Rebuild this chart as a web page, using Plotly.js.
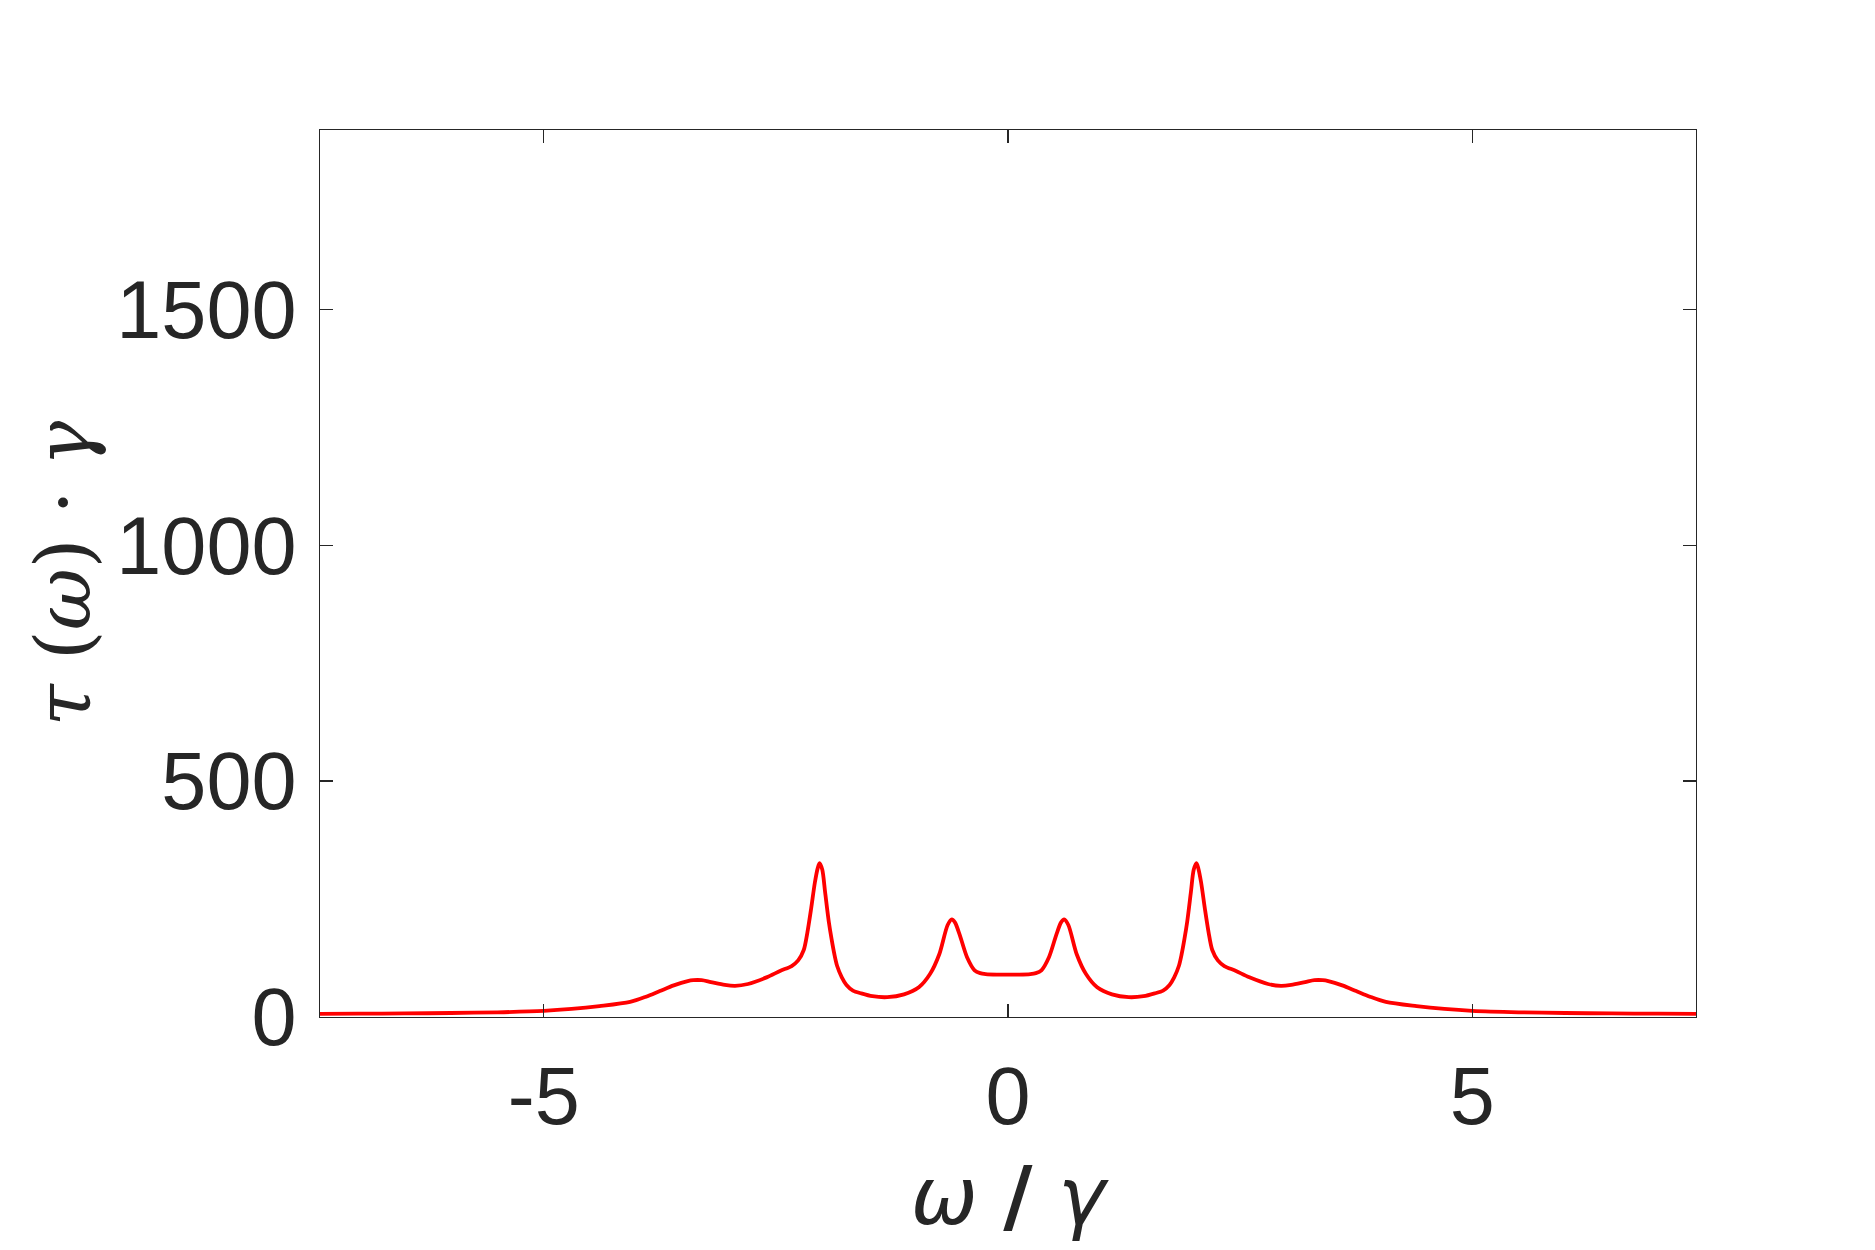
<!DOCTYPE html>
<html>
<head>
<meta charset="utf-8">
<script src="https://cdn.plot.ly/plotly-3.0.1.min.js"></script>
<style>html,body{margin:0;padding:0;background:#fff;}#chart{width:1875px;height:1250px;}</style>
</head>
<body>
<div id="chart"></div>
<script>
// ω/γ values
const omega = [
  -7.41, -7.0, -6.5, -6.0, -5.5, -5.0, -4.7, -4.4, -4.07, -3.9, -3.75, -3.6, -3.45, -3.39, -3.3, -3.2, -3.05, -2.94, -2.8, -2.6, -2.45, -2.33, -2.26, -2.2, -2.16, -2.12, -2.08, -2.05, -2.03, -2.0, -1.97, -1.93, -1.9, -1.87, -1.84, -1.79, -1.74, -1.67, -1.58, -1.46, -1.3, -1.12, -0.96, -0.84, -0.74, -0.65, -0.605, -0.57, -0.52, -0.44, -0.36, -0.3, -0.24, -0.12,
  0.0,
  0.12, 0.24, 0.3, 0.36, 0.44, 0.52, 0.57, 0.605, 0.65, 0.74, 0.84, 0.96, 1.12, 1.3, 1.46, 1.58, 1.67, 1.74, 1.79, 1.84, 1.87, 1.9, 1.93, 1.97, 2.0, 2.03, 2.05, 2.08, 2.12, 2.16, 2.2, 2.26, 2.33, 2.45, 2.6, 2.8, 2.94, 3.05, 3.2, 3.3, 3.39, 3.45, 3.6, 3.75, 3.9, 4.07, 4.4, 4.7, 5.0, 5.5, 6.0, 6.5, 7.0, 7.41
];
// τ(ω)·γ values
const tau = [
  6.5, 7, 7.5, 8.5, 10, 13, 17, 23, 32, 43, 55, 67, 76, 78, 78, 74, 68, 66, 70, 84, 98, 108, 120, 142, 180, 230, 285, 315, 326, 312, 265, 202, 165, 133, 108, 84, 68, 56, 50, 44, 42, 48, 63, 91, 133, 195, 207, 200, 174, 126, 99, 93, 91, 90,
  90,
  90, 91, 93, 99, 126, 174, 200, 207, 195, 133, 91, 63, 48, 42, 44, 50, 56, 68, 84, 108, 133, 165, 202, 265, 312, 326, 315, 285, 230, 180, 142, 120, 108, 98, 84, 70, 66, 68, 74, 78, 78, 76, 67, 55, 43, 32, 23, 17, 13, 10, 8.5, 7.5, 7, 6.5
];
const xTicks = [-5, 0, 5];
const xTickText = ['-5', '0', '5'];
const yTicks = [0, 500, 1000, 1500];
const yTickText = ['0', '500', '1000', '1500'];

const axisColor = '#262626';
const tickFont = {family: 'Liberation Sans, Arial, Helvetica, sans-serif', size: 81, color: axisColor};

const trace = {
  x: omega, y: tau, type: 'scatter', mode: 'lines',
  line: {color: '#ff0000', width: 3.8, shape: 'spline', smoothing: 0.8},
  hoverinfo: 'skip'
};

const layout = {
  width: 1875, height: 1250,
  margin: {l: 320, r: 179, t: 130, b: 233, pad: 0},
  paper_bgcolor: '#ffffff', plot_bgcolor: '#ffffff',
  showlegend: false,
  xaxis: {
    range: [-7.41, 7.41],
    tickvals: xTicks, ticktext: xTickText,
    ticks: 'inside', ticklen: 13, tickwidth: 1.3, tickcolor: axisColor,
    showline: true, linecolor: axisColor, linewidth: 1.3, mirror: 'ticks',
    showgrid: false, zeroline: false,
    tickfont: tickFont,
    ticklabelstandoff: 8,
    title: {text: '<i>ω</i> <b>/</b> <i>γ</i>', font: {family: 'DejaVu Sans, sans-serif', size: 80, color: axisColor}, standoff: 28}
  },
  yaxis: {
    range: [0, 1880],
    tickvals: yTicks, ticktext: yTickText,
    ticks: 'inside', ticklen: 13, tickwidth: 1.3, tickcolor: axisColor,
    showline: true, linecolor: axisColor, linewidth: 1.3, mirror: 'ticks',
    showgrid: false, zeroline: false,
    tickfont: tickFont,
    ticklabelstandoff: 6,
    title: {text: '<i>τ</i> (<i>ω</i>) · <i>γ</i>', font: {family: 'DejaVu Serif, Liberation Serif, serif', size: 76, color: axisColor}, standoff: 0}
  }
};

Plotly.newPlot('chart', [trace], layout, {displayModeBar: false, staticPlot: true});
</script>
</body>
</html>
